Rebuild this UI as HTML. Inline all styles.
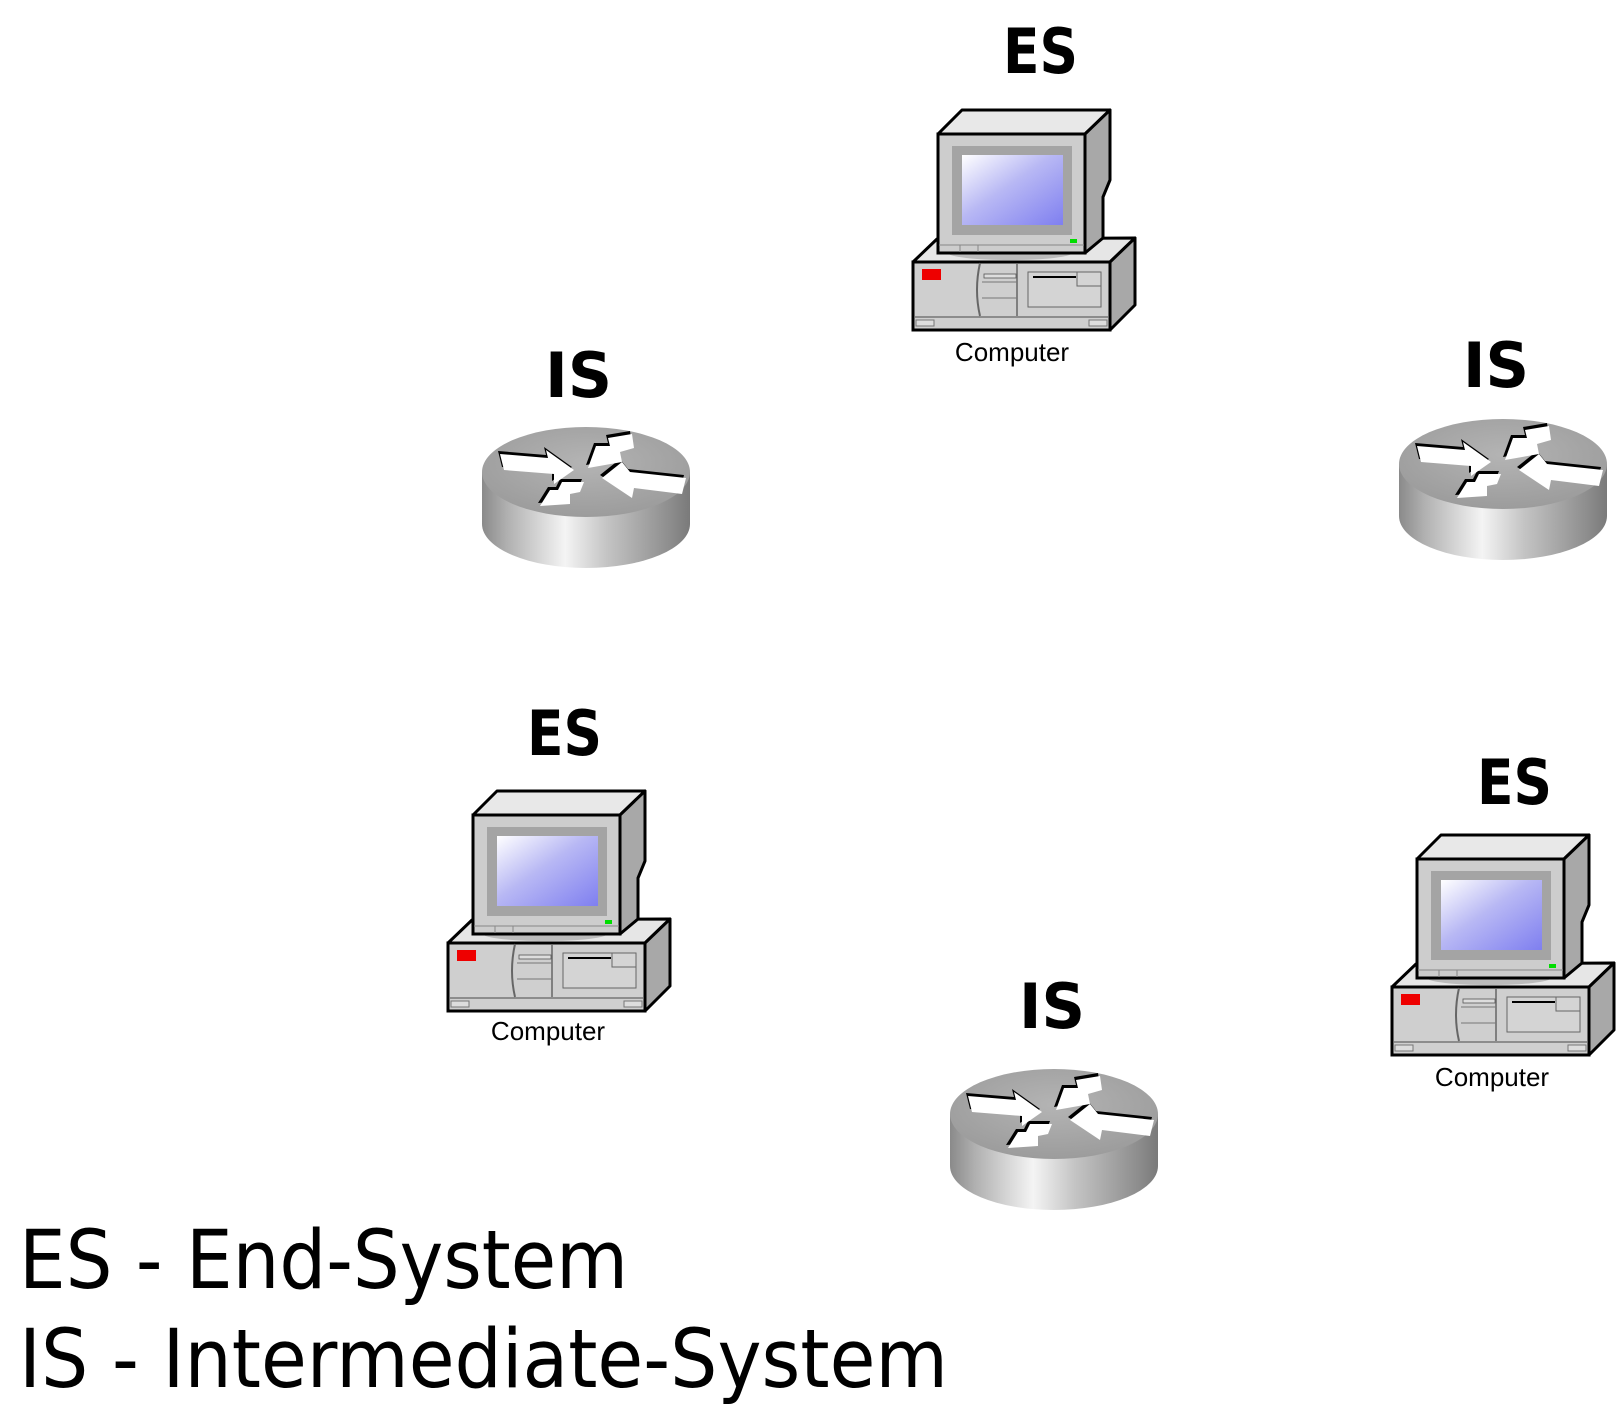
<!DOCTYPE html>
<html><head><meta charset="utf-8"><style>
html,body{margin:0;padding:0;background:#fff;}
svg{display:block;}
</style></head><body>
<svg width="1620" height="1414" viewBox="0 0 1620 1414" xmlns="http://www.w3.org/2000/svg">
<defs>
<linearGradient id="scr" x1="0" y1="0" x2="1" y2="1">
<stop offset="0" stop-color="#ffffff"/><stop offset="0.45" stop-color="#b8b8f4"/><stop offset="1" stop-color="#7f7ff0"/>
</linearGradient>
<linearGradient id="side" x1="0" y1="0" x2="1" y2="0">
<stop offset="0" stop-color="#8a8a8a"/><stop offset="0.12" stop-color="#b0b0b0"/><stop offset="0.4" stop-color="#f4f4f4"/><stop offset="0.6" stop-color="#c4c4c4"/><stop offset="0.9" stop-color="#8e8e8e"/><stop offset="1" stop-color="#7a7a7a"/>
</linearGradient>
<radialGradient id="top" cx="0.5" cy="0.4" r="0.6">
<stop offset="0" stop-color="#b4b4b4"/><stop offset="1" stop-color="#9c9c9c"/>
</radialGradient>
<g id="pc">
<polygon points="913,262 937,239 1135,238 1110,262" fill="#e6e6e6" stroke="#000" stroke-width="3" stroke-linejoin="round"/>
<polygon points="1110,262 1135,238 1135,305 1110,330" fill="#a8a8a8" stroke="#000" stroke-width="3" stroke-linejoin="round"/>
<rect x="913" y="262" width="197" height="68" fill="#cfcfcf" stroke="#000" stroke-width="3"/>
<line x1="915" y1="317" x2="1108" y2="317" stroke="#777" stroke-width="1.5"/>
<rect x="916" y="320" width="18" height="6" fill="#ddd" stroke="#777"/>
<rect x="1089" y="320" width="18" height="6" fill="#ddd" stroke="#777"/>
<rect x="922" y="269" width="19" height="11" fill="#ee0000"/>
<path d="M980,263 Q974,290 980,316" fill="none" stroke="#666" stroke-width="2"/>
<line x1="1017" y1="264" x2="1017" y2="316" stroke="#666" stroke-width="1.5"/>
<line x1="982" y1="282" x2="1017" y2="282" stroke="#777"/>
<line x1="982" y1="298" x2="1017" y2="298" stroke="#777"/>
<rect x="984" y="274" width="32" height="4" fill="#ddd" stroke="#555" stroke-width="0.8"/>
<rect x="1028" y="272" width="73" height="35" fill="#d4d4d4" stroke="#666"/>
<rect x="1077" y="272" width="24" height="14" fill="none" stroke="#666"/>
<line x1="1033" y1="277" x2="1076" y2="277" stroke="#000" stroke-width="2"/>
<ellipse cx="1010" cy="253" rx="62" ry="7" fill="#bbb"/>
<polygon points="938,134 962,110 1110,110 1085,134" fill="#e8e8e8" stroke="#000" stroke-width="3" stroke-linejoin="round"/>
<polygon points="1085,134 1110,110 1110,180 1103,197 1103,238 1085,253" fill="#a8a8a8" stroke="#000" stroke-width="3" stroke-linejoin="round"/>
<rect x="938" y="134" width="147" height="119" fill="#cdcdcd" stroke="#000" stroke-width="3"/>
<rect x="952" y="146" width="120" height="89" fill="#a4a4a4"/>
<rect x="962" y="155" width="101" height="70" fill="url(#scr)"/>
<line x1="939" y1="245" x2="1084" y2="245" stroke="#888"/>
<line x1="960" y1="245" x2="960" y2="252" stroke="#888"/>
<line x1="978" y1="245" x2="978" y2="252" stroke="#888"/>
<rect x="1070" y="239" width="7" height="4" fill="#00dd00"/>
</g>
<g id="ar">
<polygon points="18,26 66,30 64,22 92,42 72,56 72,46 22,42"/>
<polygon points="150,6 152,20 138,24 140,34 106,40 114,18 128,18 126,10"/>
<polygon points="204,50 200,66 152,60 150,70 120,50 140,34 148,44"/>
<polygon points="102,54 98,64 88,66 88,76 58,78 68,62 76,62 80,54"/>
</g>
<g id="rt">
<rect x="0" y="44" width="208" height="52" fill="url(#side)"/>
<ellipse cx="104" cy="96" rx="104" ry="44" fill="url(#side)"/>
<ellipse cx="104" cy="44" rx="104" ry="45" fill="url(#top)"/>
<use href="#ar" fill="#000" transform="translate(-2,-3)"/>
<use href="#ar" fill="#fff"/>
</g>
</defs>

<use href="#pc"/>
<use href="#pc" transform="translate(-465,681)"/>
<use href="#pc" transform="translate(479,725)"/>

<use href="#rt" transform="translate(482,428)"/>
<use href="#rt" transform="translate(1399,420)"/>
<use href="#rt" transform="translate(950,1070)"/>

<g font-family="'DejaVu Sans','Liberation Sans',sans-serif" font-weight="bold" font-size="62">
<text x="1003" y="73" textLength="75" lengthAdjust="spacingAndGlyphs">ES</text>
<text x="527" y="755" textLength="75" lengthAdjust="spacingAndGlyphs">ES</text>
<text x="1477" y="804" textLength="75" lengthAdjust="spacingAndGlyphs">ES</text>
<text x="545" y="397" textLength="67" lengthAdjust="spacingAndGlyphs">IS</text>
<text x="1463" y="387" textLength="66" lengthAdjust="spacingAndGlyphs">IS</text>
<text x="1019" y="1028" textLength="66" lengthAdjust="spacingAndGlyphs">IS</text>
</g>
<g font-family="'Liberation Sans',sans-serif" font-size="26" text-anchor="middle">
<text x="1012" y="361">Computer</text>
<text x="548" y="1040">Computer</text>
<text x="1492" y="1086">Computer</text>
</g>
<g font-family="'DejaVu Sans','Liberation Sans',sans-serif" font-size="81">
<text x="19" y="1288" textLength="609" lengthAdjust="spacingAndGlyphs">ES - End-System</text>
<text x="19" y="1387" textLength="929" lengthAdjust="spacingAndGlyphs">IS - Intermediate-System</text>
</g>
</svg>
</body></html>
